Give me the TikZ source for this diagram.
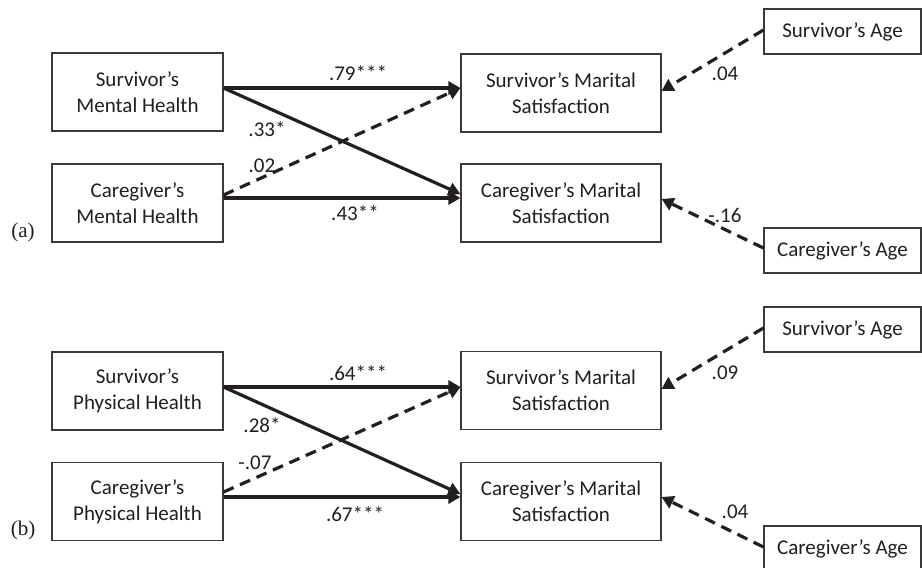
\documentclass[tikz,border=0pt]{standalone}
\usepackage{fontspec}
\setmainfont{Carlito}
\newfontfamily\panelfont{Liberation Serif}
\usetikzlibrary{arrows.meta}
\definecolor{ink}{HTML}{231F20}
\definecolor{boxcol}{HTML}{3A3A3A}
\tikzset{
  varbox/.style={draw=boxcol, line width=1.1pt, align=center, inner sep=0pt,
    text=ink, font=\fontsize{21}{26}\selectfont},
  leftbox/.style={varbox, minimum width=171pt, minimum height=78pt},
  outbox/.style={varbox, minimum width=200pt, minimum height=78pt},
  agebox/.style={varbox, minimum width=157pt, minimum height=45pt},
  solidpath/.style={draw=ink, line width=3.2pt, -{Triangle[length=12pt,width=13pt]}},
  dashpath/.style={solidpath, dash pattern=on 11pt off 7pt},
  coef/.style={inner sep=0pt, text=ink, font=\fontsize{21}{26}\selectfont},
  panel/.style={inner sep=0pt, text=ink, font=\panelfont\fontsize{21}{25}\selectfont}
}
\begin{document}
\begin{tikzpicture}[x=1pt,y=-1pt]
\path[use as bounding box, clip] (0,0) rectangle (922,568);
\fill[white] (0,0) rectangle (922,568);

% ---------- panel (a) ----------
\node[leftbox] (smh) at (137.5,92) {Survivor’s\\Mental Health};
\node[leftbox] (cmh) at (137.5,203) {Caregiver’s\\Mental Health};
\node[outbox] (sms) at (561,93) {Survivor’s Marital\\Satisfaction};
\node[outbox] (cms) at (561,203) {Caregiver’s Marital\\Satisfaction};
\node[agebox] (sa) at (842.5,31.5) {Survivor’s Age};
\node[agebox] (ca) at (842.5,250.5) {Caregiver’s Age};
\node[panel] (pa) at (23,232) {(a)};

\draw[solidpath] ([yshift=4pt]smh.east) -- ([yshift=5pt]sms.west);
\draw[solidpath] ([yshift=4pt]smh.east) -- ([yshift=9pt]cms.west);
\draw[solidpath] ([yshift=5pt]cmh.east) -- ([yshift=5pt]cms.west);
\draw[dashpath] ([yshift=8pt]cmh.east) -- ([yshift=5pt]sms.west);
\draw[dashpath] ([yshift=1.5pt]sa.west) -- ([yshift=2pt]sms.east);
\draw[dashpath] ([yshift=2.5pt]ca.west) -- ([yshift=4pt]cms.east);

\node[coef] (a1) at (358,73) {.79***};
\node[coef] (a2) at (267,129) {.33*};
\node[coef] (a3) at (262,166) {.02};
\node[coef] (a4) at (355,213) {.43**};
\node[coef] (a5) at (725,74) {.04};
\node[coef] (a6) at (725,215) {-.16};

% ---------- panel (b) ----------
\node[leftbox] (sph) at (137.5,391) {Survivor’s\\Physical Health};
\node[leftbox] (cph) at (137.5,501.5) {Caregiver’s\\Physical Health};
\node[outbox] (smsb) at (561,390.5) {Survivor’s Marital\\Satisfaction};
\node[outbox] (cmsb) at (561,501.5) {Caregiver’s Marital\\Satisfaction};
\node[agebox] (sab) at (842.5,329.5) {Survivor’s Age};
\node[agebox] (cab) at (842.5,548.5) {Caregiver’s Age};
\node[panel] (pb) at (23,530) {(b)};

\draw[solidpath] ([yshift=4pt]sph.east) -- ([yshift=3.5pt]smsb.west);
\draw[solidpath] ([yshift=4pt]sph.east) -- ([yshift=7.5pt]cmsb.west);
\draw[solidpath] ([yshift=4.5pt]cph.east) -- ([yshift=4.5pt]cmsb.west);
\draw[dashpath] ([yshift=9.5pt]cph.east) -- ([yshift=3.5pt]smsb.west);
\draw[dashpath] ([yshift=1.5pt]sab.west) -- ([yshift=1.5pt]smsb.east);
\draw[dashpath] ([yshift=1.5pt]cab.west) -- ([yshift=4.5pt]cmsb.east);

\node[coef] (b1) at (358,373) {.64***};
\node[coef] (b2) at (262,425) {.28*};
\node[coef] (b3) at (255,463) {-.07};
\node[coef] (b4) at (355,514) {.67***};
\node[coef] (b5) at (725,373) {.09};
\node[coef] (b6) at (735,512) {.04};
\end{tikzpicture}
\end{document}
